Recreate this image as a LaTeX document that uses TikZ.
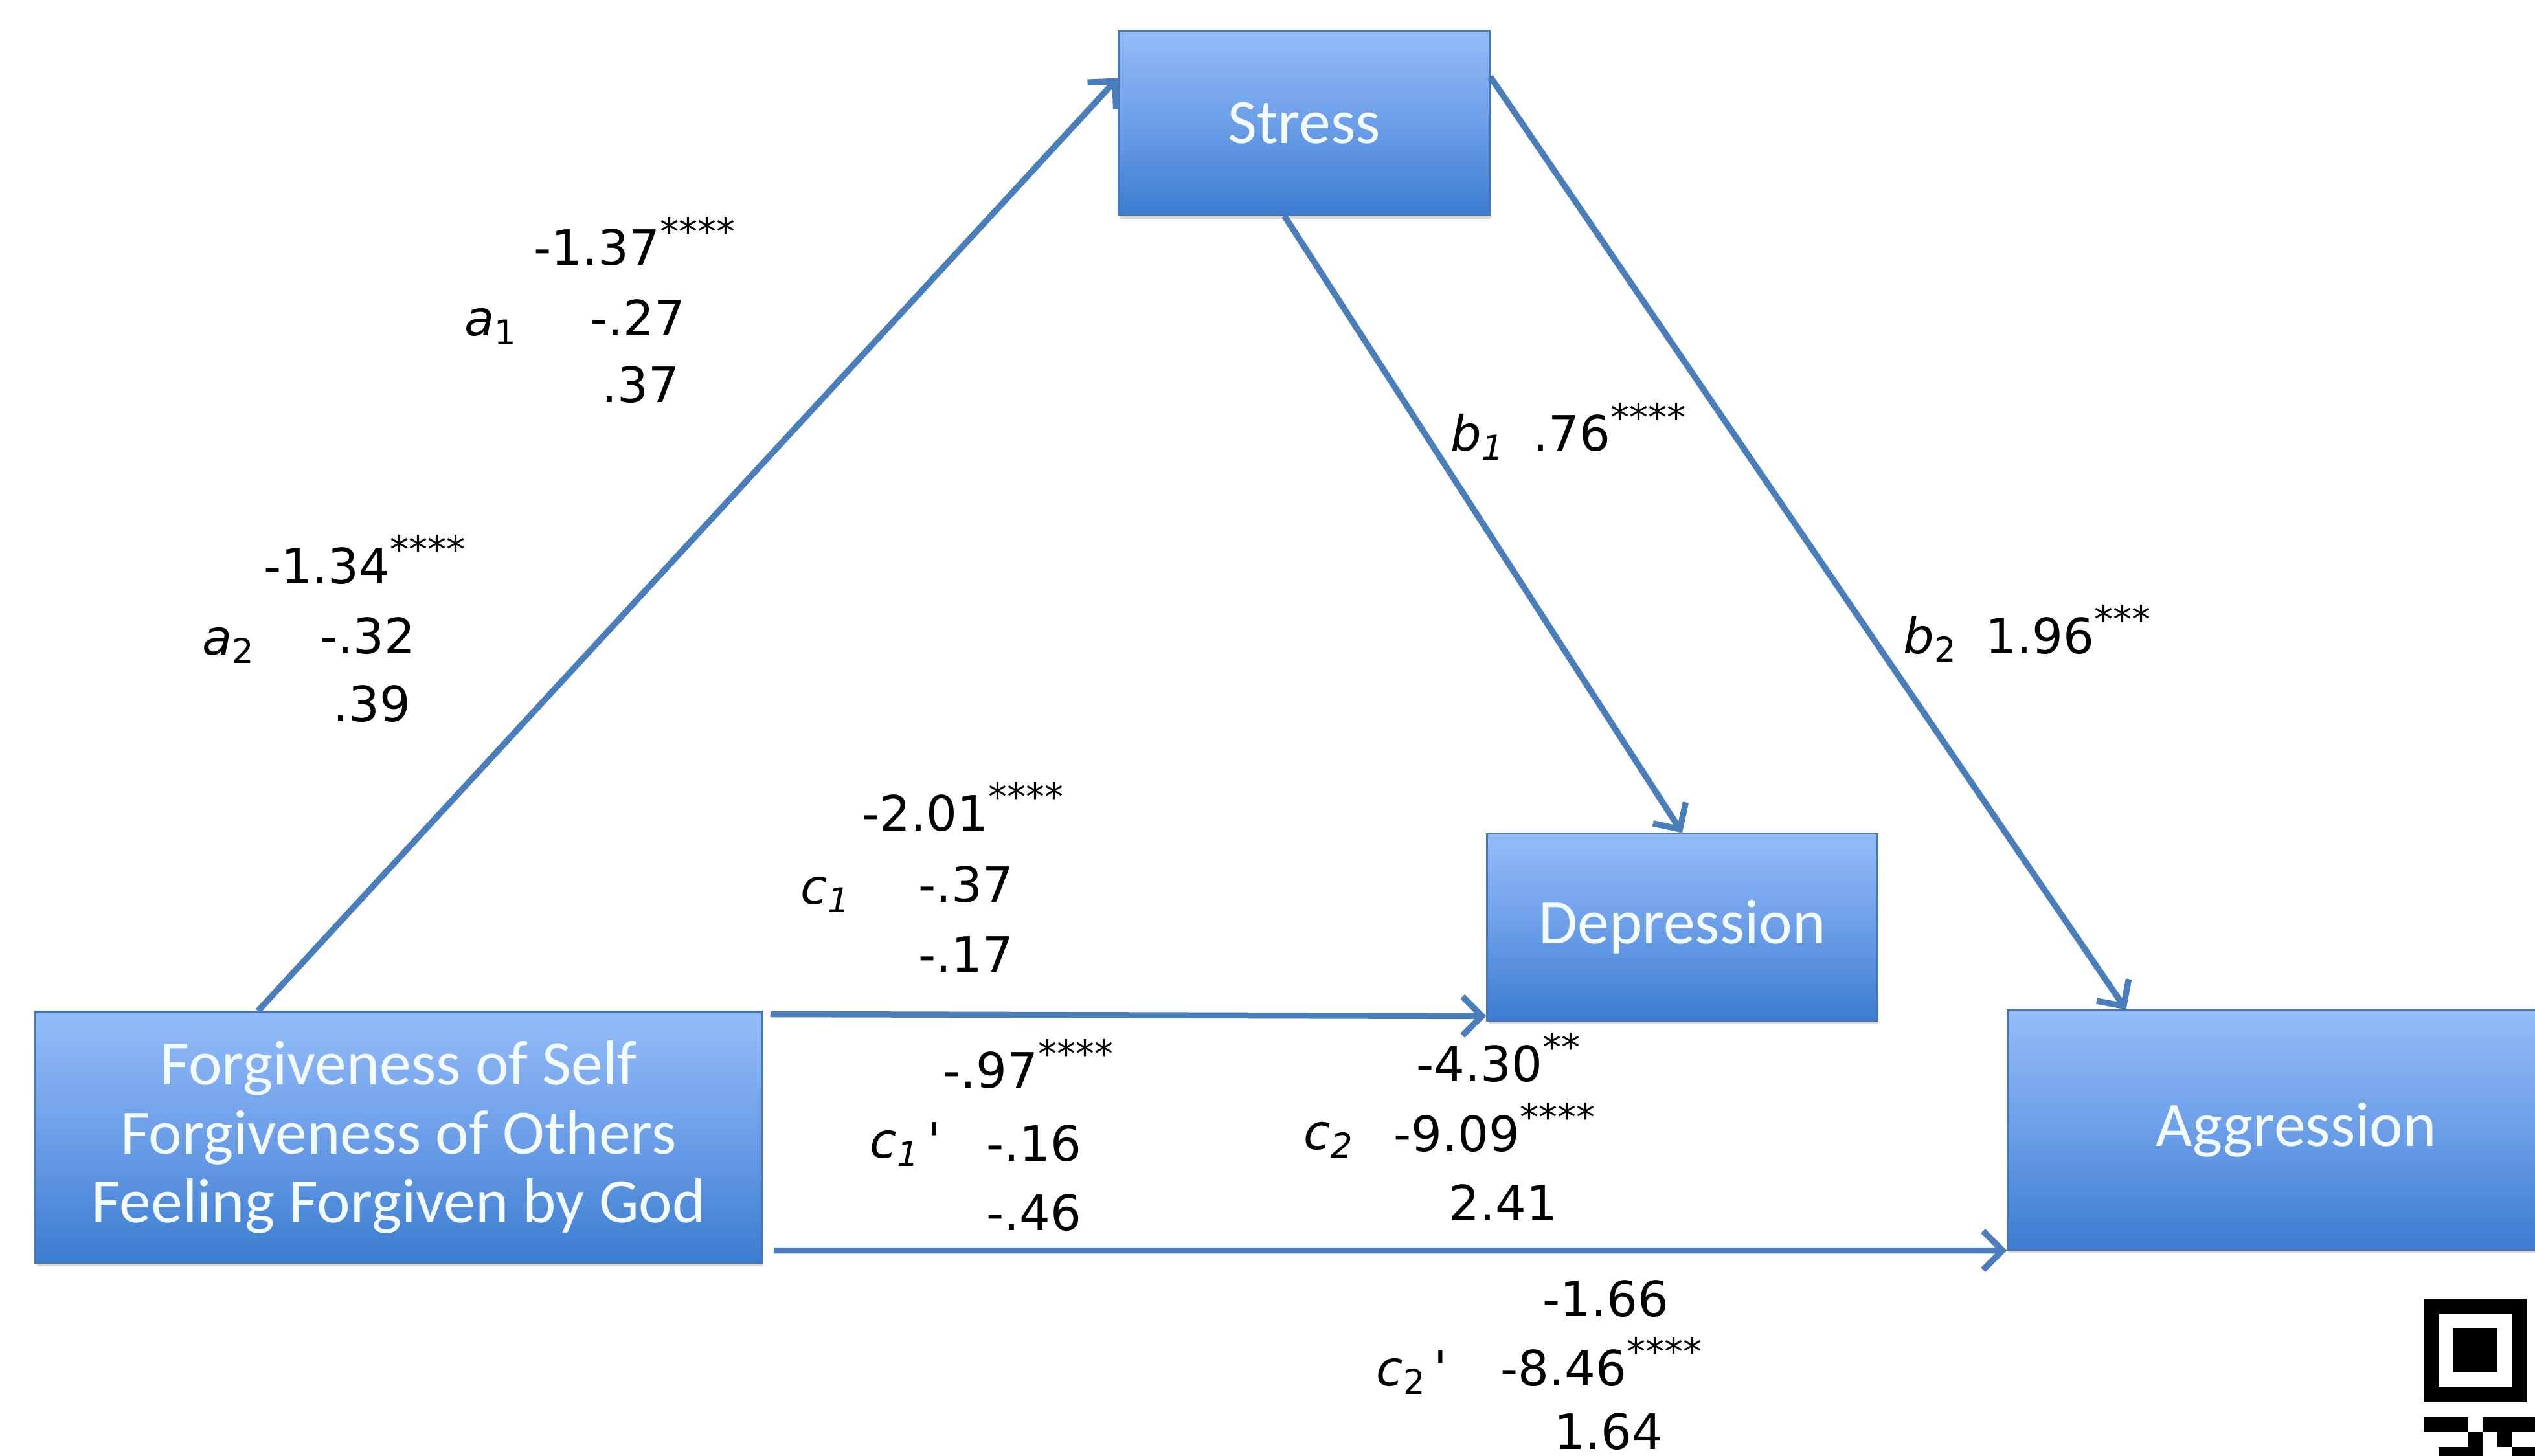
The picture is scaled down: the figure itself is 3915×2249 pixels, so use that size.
\documentclass[tikz,border=0pt]{standalone}
\usepackage{fontspec}
\setmainfont{DejaVu Sans}
\newfontfamily\boxfont{Carlito}
\usetikzlibrary{arrows.meta,shadows}
\definecolor{linecol}{HTML}{4A7EBB}
\definecolor{boxedge}{HTML}{4576B8}
\definecolor{boxtop}{RGB}{148,188,248}
\definecolor{boxmid}{RGB}{108,158,232}
\definecolor{boxbot}{RGB}{60,124,208}
\definecolor{boxtext}{HTML}{F2FBFF}
\tikzset{
  box/.style={draw=boxedge, line width=0.8pt, top color=boxtop, bottom color=boxbot, middle color=boxmid,
    inner sep=0pt, text=boxtext, align=center,
    font=\boxfont\fontsize{27.8}{30.4}\selectfont,
    drop shadow={shadow xshift=0.02cm, shadow yshift=-0.06cm, opacity=0.25, fill=black!60}},
  arr/.style={draw=linecol, line width=2.7pt, -{Straight Barb[length=0.3cm,width=0.6cm]}},
  lab/.style={anchor=base west, inner sep=0pt, font=\fontsize{21.4}{26}\selectfont},
  qr/.style={fill=black}
}
\newcommand{\pr}{\,\textit{\textquotesingle}}
\newcommand{\st}[1]{\raisebox{0.42em}{\fontsize{16.5}{16.5}\selectfont #1}}
\begin{document}
\begin{tikzpicture}[x=0.01cm,y=-0.01cm]
\useasboundingbox (0,0) rectangle (3915,2249);
\clip (0,0) rectangle (3915,2249);
\fill[white] (0,0) rectangle (3915,2249);

% boxes
\node[box, minimum width=5.72cm, minimum height=2.84cm] (stress) at (2014,190) {Stress};
\node[box, minimum width=6.02cm, minimum height=2.88cm] (depr) at (2598,1432) {Depression};
\node[box, minimum width=8.90cm, minimum height=3.69cm] (aggr) at (3546,1745.5) {Aggression};
\node[box, minimum width=11.21cm, minimum height=3.87cm] (forg) at (615.5,1756.5)
  {Forgiveness of Self\\Forgiveness of Others\\Feeling Forgiven by God};

% connectors
\draw[arr] ([xshift=3.45cm]forg.north west) -- ([yshift=-0.74cm]stress.north west);
\draw[arr] ([xshift=2.57cm]stress.south west) -- (depr.north);
\draw[arr] ([yshift=-0.72cm]stress.north east) -- ([xshift=1.84cm]aggr.north west);
\draw[arr] ([xshift=0.12cm,yshift=-0.05cm]forg.north east) -- ([yshift=0.08cm]depr.south west);
\draw[arr] ([xshift=0.17cm,yshift=0.2cm]forg.south east) -- (aggr.south west);

% a1
\node[lab] (a1v1) at (824,410) {-1.37\st{****}};
\node[lab] (a1n) at (717,519) {\textit{a}\textsubscript{1}};
\node[lab] (a1v2) at (911,519) {-.27};
\node[lab] (a1v3) at (929,622) {.37};
% a2
\node[lab] (a2v1) at (407,901) {-1.34\st{****}};
\node[lab] (a2n) at (312,1011) {\textit{a}\textsubscript{2}};
\node[lab] (a2v2) at (494,1009) {-.32};
\node[lab] (a2v3) at (514,1114) {.39};
% b1, b2
\node[lab] (b1n) at (2240,697) {\textit{b}\textsubscript{\textit{1}}};
\node[lab] (b1v) at (2367,697) {.76\st{****}};
\node[lab] (b2n) at (2939,1009) {\textit{b}\textsubscript{2}};
\node[lab] (b2v) at (3066,1009) {1.96\st{***}};
% c1
\node[lab] (c1v1) at (1331,1283) {-2.01\st{****}};
\node[lab] (c1n) at (1236,1396) {\textit{c}\textsubscript{\textit{1}}};
\node[lab] (c1v2) at (1418,1393) {-.37};
\node[lab] (c1v3) at (1418,1501) {-.17};
% c1'
\node[lab] (d1v1) at (1456,1680) {-.97\st{****}};
\node[lab] (d1n) at (1343,1788) {\textit{c}\textsubscript{\textit{1}}\pr};
\node[lab] (d1v2) at (1523,1793) {-.16};
\node[lab] (d1v3) at (1523,1900) {-.46};
% c2
\node[lab] (c2v1) at (2187,1670) {-4.30\st{**}};
\node[lab] (c2n) at (2013,1775) {\textit{c}\textsubscript{\textit{2}}};
\node[lab] (c2v2) at (2152,1778) {-9.09\st{****}};
\node[lab] (c2v3) at (2237,1885) {2.41};
% c2'
\node[lab] (d2v1) at (2382,2033) {-1.66};
\node[lab] (d2n) at (2125,2140) {\textit{c}\textsubscript{2}\pr};
\node[lab] (d2v2) at (2317,2140) {-8.46\st{****}};
\node[lab] (d2v3) at (2400,2238) {1.64};

% QR fragment
\fill[qr] (3743,2006) rectangle (3903,2166);
\fill[white] (3766,2029) rectangle (3880,2143);
\fill[qr] (3788,2052) rectangle (3857,2120);
\fill[qr] (3743,2189) rectangle (3812,2212);
\fill[qr] (3834,2189) rectangle (3915,2212);
\fill[qr] (3812,2212) rectangle (3834,2235);
\fill[qr] (3857,2212) rectangle (3880,2235);
\fill[qr] (3766,2235) rectangle (3834,2249);
\fill[qr] (3880,2235) rectangle (3915,2249);
\end{tikzpicture}
\end{document}
